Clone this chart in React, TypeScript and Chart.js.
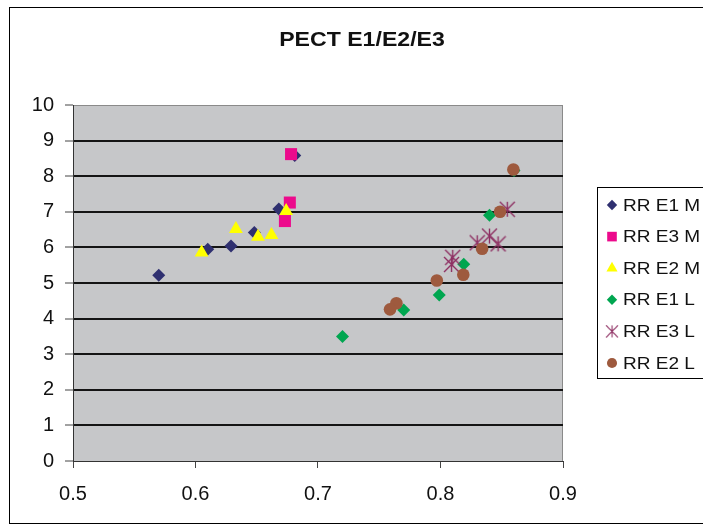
import React, { useEffect, useRef } from 'react';
import { Chart, registerables } from 'chart.js';

Chart.register(...registerables);

const chartTitle = 'PECT E1/E2/E3';
const xTickValues = [0.5, 0.6, 0.7, 0.8, 0.9];
const xTickLabels = ['0.5', '0.6', '0.7', '0.8', '0.9'];
const yTickValues = [0, 1, 2, 3, 4, 5, 6, 7, 8, 9, 10];
const yTickLabels = ['0', '1', '2', '3', '4', '5', '6', '7', '8', '9', '10'];

const seriesNames = ['RR E1 M', 'RR E3 M', 'RR E2 M', 'RR E1 L', 'RR E3 L', 'RR E2 L'];

const rrE1M = [
  { x: 0.570, y: 5.22 }, { x: 0.610, y: 5.95 }, { x: 0.629, y: 6.04 },
  { x: 0.648, y: 6.42 }, { x: 0.668, y: 7.08 }, { x: 0.681, y: 8.58 },
];
const rrE3M = [
  { x: 0.678, y: 8.62 }, { x: 0.677, y: 7.26 }, { x: 0.673, y: 6.74 },
];
const rrE2M = [
  { x: 0.605, y: 5.86 }, { x: 0.633, y: 6.52 }, { x: 0.651, y: 6.30 },
  { x: 0.662, y: 6.35 }, { x: 0.674, y: 7.02 },
];
const rrE1L = [
  { x: 0.720, y: 3.50 }, { x: 0.770, y: 4.24 }, { x: 0.799, y: 4.66 },
  { x: 0.819, y: 5.53 }, { x: 0.840, y: 6.90 }, { x: 0.860, y: 8.16 },
];
const rrE3L = [
  { x: 0.8545, y: 7.07 }, { x: 0.840, y: 6.32 }, { x: 0.847, y: 6.10 },
  { x: 0.830, y: 6.13 }, { x: 0.810, y: 5.72 }, { x: 0.809, y: 5.52 },
];
const rrE2L = [
  { x: 0.8595, y: 8.19 }, { x: 0.8486, y: 7.00 }, { x: 0.834, y: 5.96 },
  { x: 0.8186, y: 5.23 }, { x: 0.797, y: 5.07 }, { x: 0.764, y: 4.43 },
  { x: 0.7588, y: 4.26 },
];

const seriesData = [rrE1M, rrE3M, rrE2M, rrE1L, rrE3L, rrE2L];
const seriesColors = ['#2f3070', '#ec0a8c', '#ffff00', '#00a650', '#8e2f62', '#9e5a3e'];
const seriesStyles = ['rectRot', 'rect', 'triangle', 'rectRot', 'asterisk', 'circle'];
const seriesRadius = [6.5, 8.5, 8, 6.5, 8, 6.3];

const FONT = '"Liberation Sans", Arial, sans-serif';

function makeAsterisk(color: string, size: number) {
  const c = document.createElement('canvas');
  c.width = size;
  c.height = size;
  const g = c.getContext('2d')!;
  g.strokeStyle = color;
  g.lineWidth = 1.4;
  const m = size / 2;
  const r = size / 2 - 1;
  g.beginPath();
  g.moveTo(m, m - r); g.lineTo(m, m + r);
  g.moveTo(m - r, m - r); g.lineTo(m + r, m + r);
  g.moveTo(m + r, m - r); g.lineTo(m - r, m + r);
  g.stroke();
  return c;
}

function drawMarker(ctx: CanvasRenderingContext2D, style: any, x: number, y: number, r: number, color: string) {
  ctx.save();
  ctx.fillStyle = color;
  ctx.beginPath();
  if (typeof style !== 'string') {
    const w = style.width * 0.8;
    ctx.drawImage(style, x - w / 2, y - w / 2, w, w);
    ctx.restore();
    return;
  }
  if (style === 'rectRot') {
    ctx.moveTo(x, y - r); ctx.lineTo(x + r, y); ctx.lineTo(x, y + r); ctx.lineTo(x - r, y);
  } else if (style === 'rect') {
    const s = Math.SQRT1_2 * r;
    ctx.rect(x - s, y - s, 2 * s, 2 * s);
  } else if (style === 'triangle') {
    ctx.moveTo(x, y - r);
    ctx.lineTo(x + r * Math.cos(Math.PI / 6), y + r / 2);
    ctx.lineTo(x - r * Math.cos(Math.PI / 6), y + r / 2);
  } else {
    ctx.arc(x, y, r, 0, Math.PI * 2);
  }
  ctx.closePath();
  ctx.fill();
  ctx.restore();
}

function stretchedText(ctx: CanvasRenderingContext2D, text: string, x: number, y: number, sx: number, align: CanvasTextAlign) {
  ctx.save();
  ctx.translate(x, y);
  ctx.scale(sx, 1);
  ctx.textAlign = align;
  ctx.fillText(text, 0, 0);
  ctx.restore();
}

export default function App() {
  const ref = useRef<HTMLCanvasElement>(null);

  useEffect(() => {
    if (!ref.current) return;
    const asterisk = makeAsterisk(seriesColors[4], 17);
    const styles = seriesStyles.map((s) => (s === 'asterisk' ? asterisk : s));

    const decor = {
      id: 'decor',
      beforeDraw(chart: any) {
        const { ctx, chartArea: a } = chart;
        ctx.save();
        ctx.fillStyle = '#ffffff';
        ctx.fillRect(0, 0, chart.width, chart.height);
        ctx.fillStyle = '#c6c7c9';
        ctx.fillRect(a.left, a.top, a.right - a.left, a.bottom - a.top);
        ctx.strokeStyle = '#8a8a8a';
        ctx.lineWidth = 1;
        ctx.strokeRect(a.left + 0.5, a.top + 0.5, a.right - a.left - 1, a.bottom - a.top);
        ctx.restore();
      },
      afterDraw(chart: any) {
        const { ctx } = chart;
        ctx.save();
        // outer frame
        ctx.strokeStyle = '#000000';
        ctx.lineWidth = 1;
        ctx.strokeRect(9.5, 7.5, 800, 516);
        // title
        ctx.fillStyle = '#111111';
        ctx.font = `bold 21px ${FONT}`;
        ctx.textBaseline = 'middle';
        stretchedText(ctx, chartTitle, 362, 40, 1.1, 'center');
        // legend
        ctx.strokeStyle = '#000000';
        ctx.strokeRect(597.5, 187.5, 200, 191);
        ctx.font = `17px ${FONT}`;
        seriesNames.forEach((name, i) => {
          const y = 205 + i * 31.6;
          drawMarker(ctx, styles[i], 612, y, seriesRadius[i] * 0.8, seriesColors[i]);
          ctx.fillStyle = '#111111';
          stretchedText(ctx, name, 623, y + 1, 1.12, 'left');
        });
        ctx.restore();
      },
    };

    const chart = new Chart(ref.current, {
      type: 'scatter',
      data: {
        datasets: seriesNames.map((name, i) => ({
          label: name,
          data: seriesData[i],
          pointStyle: styles[i] as any,
          pointRadius: seriesRadius[i],
          pointHoverRadius: seriesRadius[i],
          pointBackgroundColor: seriesColors[i],
          pointBorderColor: seriesColors[i],
          pointBorderWidth: 0,
          showLine: false,
          order: seriesNames.length - i,
        })),
      },
      options: {
        animation: false,
        responsive: false,
        events: [],
        layout: { padding: { left: 0, top: 105, right: 760 - 563, bottom: 0 } },
        plugins: {
          legend: { display: false },
          title: { display: false },
          tooltip: { enabled: false },
        },
        scales: {
          x: {
            type: 'linear',
            min: 0.5,
            max: 0.9,
            afterFit: (s: any) => { s.height = 66; },
            afterBuildTicks: (s: any) => { s.ticks = xTickValues.map((v) => ({ value: v })); },
            ticks: {
              autoSkip: false,
              maxRotation: 0,
              padding: 14,
              color: '#111111',
              font: { family: FONT, size: 20 },
              callback: (_v: any, i: number) => xTickLabels[i],
            },
            grid: {
              drawOnChartArea: false,
              drawTicks: true,
              tickLength: 7,
              tickColor: '#444444',
              tickWidth: 1,
            },
            border: { display: true, color: '#333333', width: 1 },
          },
          y: {
            type: 'linear',
            min: 0,
            max: 10,
            afterFit: (s: any) => { s.width = 73; },
            afterBuildTicks: (s: any) => { s.ticks = yTickValues.map((v) => ({ value: v })); },
            ticks: {
              autoSkip: false,
              padding: 11,
              color: '#111111',
              font: { family: FONT, size: 20 },
              callback: (_v: any, i: number) => yTickLabels[i],
            },
            grid: {
              drawOnChartArea: true,
              drawTicks: true,
              tickLength: 8,
              tickColor: '#444444',
              tickWidth: 1,
              lineWidth: 2,
              color: (c: any) => (c.tick && c.tick.value > 0 && c.tick.value < 10 ? '#141414' : 'rgba(0,0,0,0)'),
            },
            border: { display: true, color: '#333333', width: 1 },
          },
        },
      },
      plugins: [decor],
    });
    return () => chart.destroy();
  }, []);

  return (
    <div style={{ position: 'fixed', left: 0, top: 0, width: 703, height: 527, overflow: 'hidden', background: '#fff' }}>
      <canvas ref={ref} width={760} height={527} style={{ display: 'block', width: 760, height: 527 }} />
    </div>
  );
}
